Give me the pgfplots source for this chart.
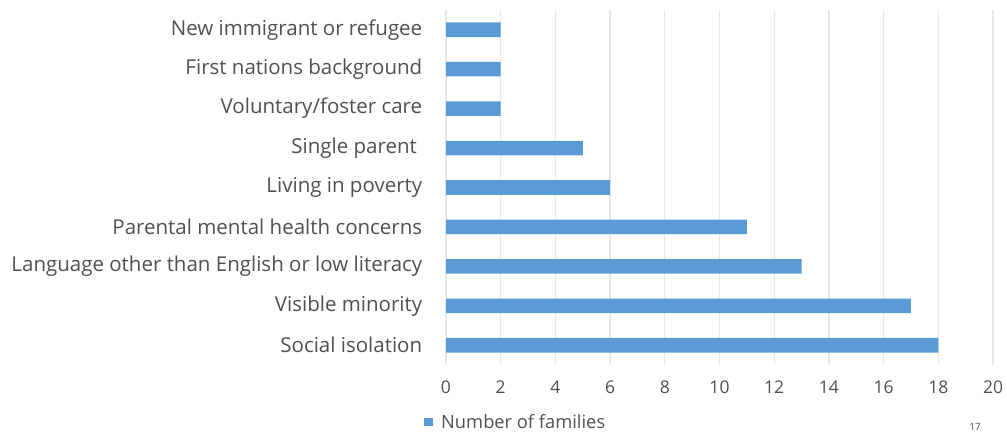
\documentclass[border=0pt]{standalone}
\usepackage{pgfplots}
\pgfplotsset{compat=1.18}
\usepackage{fontspec}
\setmainfont{Open Sans}
\definecolor{barblue}{HTML}{5B9BD5}
\definecolor{txt}{HTML}{505050}
\definecolor{gridc}{HTML}{E8E8E8}
\begin{document}
\begin{tikzpicture}
\useasboundingbox (0,0) rectangle (1007bp,433bp);
\begin{axis}[
  at={(446bp,68bp)}, anchor=south west, scale only axis,
  width=547bp, height=355bp,
  xbar, bar width=0.37, bar shift=0pt,
  xmin=0, xmax=20, xtick={0,2,...,20},
  ymin=-0.5, ymax=8.5, ytick={0,...,8},
  yticklabels={Social isolation\ ,Visible minority\ ,Language other than English or low literacy,Parental mental health concerns\ ,Living in poverty\ ,Single parent\ \ ,Voluntary/foster care\ ,First nations background,New immigrant or refugee\ },
  axis line style={draw=none}, tick style={draw=none},
  xmajorgrids, major grid style={gridc, line width=1.3bp},
  /pgf/number format/assume math mode=true,
  xticklabel style={font=\fontsize{17.5bp}{19bp}\selectfont, text=txt, yshift=-12bp},
  yticklabel style={font=\fontsize{20.5bp}{22bp}\selectfont, text=txt, xshift=-16bp},
  legend style={at={(-0.0402,-0.161)}, anchor=west, draw=none, fill=none, inner sep=0pt,
    font=\fontsize{18.3bp}{20bp}\selectfont, text=txt},
  legend image code/.code={\fill[barblue] (0bp,-4bp) rectangle (8.5bp,4bp);},
  legend cell align=left,
  legend style={/tikz/every even column/.append style={column sep=0bp}},
]
\addplot[fill=barblue, draw=none] coordinates {(18,0) (17,1) (13,2) (11,3) (6,4) (5,5) (2,6) (2,7) (2,8)};
\addlegendentry{\hspace{6.5bp}Number of families}
\end{axis}
\node[text=txt, font=\fontsize{10bp}{12bp}\selectfont] at (975bp,6bp) {17};
\end{tikzpicture}
\end{document}
